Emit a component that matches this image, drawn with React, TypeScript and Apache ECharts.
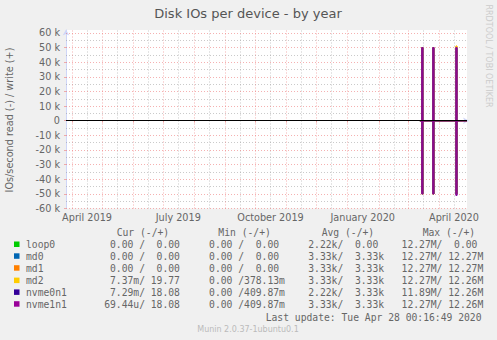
import React, { useEffect, useRef } from 'react';
import * as echarts from 'echarts';

// ---- axis range / ticks ----
const START_DATE = '2019-03-26';
const END_DATE = '2020-04-29';
const monthStarts = [
  '2019-04-01', '2019-05-01', '2019-06-01', '2019-07-01', '2019-08-01', '2019-09-01',
  '2019-10-01', '2019-11-01', '2019-12-01', '2020-01-01', '2020-02-01', '2020-03-01', '2020-04-01',
];
const midMonths = [
  '2019-04-16', '2019-05-16', '2019-06-16', '2019-07-16', '2019-08-16', '2019-09-16',
  '2019-10-16', '2019-11-16', '2019-12-16', '2020-01-16', '2020-02-16', '2020-03-16', '2020-04-16',
];
const labelDates = ['2019-04-16', '2019-07-16', '2019-10-16', '2020-01-16', '2020-04-16'];
const labelTexts = ['April 2019', 'July 2019', 'October 2019', 'January 2020', 'April 2020'];
const yMajor = [-60000, -50000, -40000, -30000, -20000, -10000, 10000, 20000, 30000, 40000, 50000, 60000];
const yMinor = [-55000, -45000, -35000, -25000, -15000, -5000, 5000, 15000, 25000, 35000, 45000, 55000];
const yTicks = [-60000, -50000, -40000, -30000, -20000, -10000, 0, 10000, 20000, 30000, 40000, 50000, 60000];

// ---- data (IOs/s, read negative, write positive) ----
const dataDates = ['2020-03-13', '2020-03-15', '2020-03-16', '2020-03-26', '2020-03-27', '2020-04-18', '2020-04-19', '2020-04-29'];
const devices = ['loop0', 'md0', 'md1', 'md2', 'nvme0n1', 'nvme1n1'];
const deviceColors = ['#00cc00', '#0066b3', '#ff8000', '#ffcc00', '#330099', '#990099'];
const loop0Read = [0, -50000, 0, -50000, 0, -50000, 0, 0];
const loop0Write = [0, 0, 0, 0, 0, 0, 0, 0];
const md0Read = [0, -50000, 0, -50000, 0, -50000, 0, 0];
const md0Write = [0, 50000, 0, 50000, 0, 50000, 0, 0];
const md1Read = [0, -50000, 0, -50000, 0, -50000, 0, 0];
const md1Write = [0, 50000, 0, 50000, 0, 51000, 0, 0];
const md2Read = [0, -50000, 0, -50000, 0, -50000, 0, 0];
const md2Write = [0, 50000, 0, 50000, 0, 51000, 0, 0];
const nvme0n1Read = [0, -50000, 0, -50000, 0, -51000, 0, 0];
const nvme0n1Write = [0, 50000, 0, 50000, 0, 50000, 0, 0];
const nvme1n1Read = [0, -50000, 0, -50000, 0, -51000, 0, 0];
const nvme1n1Write = [0, 50000, 0, 50000, 0, 50000, 0, 0];
const readSeries = [loop0Read, md0Read, md1Read, md2Read, nvme0n1Read, nvme1n1Read];
const writeSeries = [loop0Write, md0Write, md1Write, md2Write, nvme0n1Write, nvme1n1Write];

// ---- legend table ----
const legendCur = ['  0.00 /  0.00 ', '  0.00 /  0.00 ', '  0.00 /  0.00 ', '  7.37m/ 19.77 ', '  7.29m/ 18.08 ', ' 69.44u/ 18.08 '];
const legendMin = ['  0.00 /  0.00 ', '  0.00 /  0.00 ', '  0.00 /  0.00 ', '  0.00 /378.13m', '  0.00 /409.87m', '  0.00 /409.87m'];
const legendAvg = ['  2.22k/  0.00 ', '  3.33k/  3.33k', '  3.33k/  3.33k', '  3.33k/  3.33k', '  2.22k/  3.33k', '  3.33k/  3.33k'];
const legendMax = [' 12.27M/  0.00 ', ' 12.27M/ 12.27M', ' 12.27M/ 12.27M', ' 12.27M/ 12.26M', ' 11.89M/ 12.26M', ' 12.27M/ 12.26M'];
const headers = ['Cur (-/+)', 'Min (-/+)', 'Avg (-/+)', 'Max (-/+)'];
const lastUpdate = 'Last update: Tue Apr 28 00:16:49 2020';
const title = 'Disk IOs per device - by year';
const yTitle = 'IOs/second read (-) / write (+)';
const watermark = 'RRDTOOL / TOBI OETIKER';
const footer = 'Munin 2.0.37-1ubuntu0.1';

const nb = (s: string) => s.replace(/ /g, '\u00a0');
const ts = (d: string) => Date.parse(d);

export default function App() {
  const ref = useRef<HTMLDivElement>(null);
  useEffect(() => {
    if (!ref.current) return;
    const chart = echarts.init(ref.current, undefined, { renderer: 'svg' });
    const labelTs = labelDates.map(ts);
    const sans = 'DejaVu Sans';
    const mono = 'DejaVu Sans Mono';
    const textColor = '#666666';
    const majorStyle = { color: 'rgba(235,100,100,0.5)', width: 1, type: [1, 2] };
    const minorStyle = { color: 'rgba(150,150,150,0.5)', width: 1, type: [1, 2] };

    const gridLines: any[] = [
      ...midMonths.map((d) => ({ xAxis: ts(d), lineStyle: minorStyle })),
      ...yMinor.map((v) => ({ yAxis: v, lineStyle: minorStyle })),
      ...monthStarts.map((d) => ({ xAxis: ts(d), lineStyle: majorStyle })),
      ...yMajor.map((v) => ({ yAxis: v, lineStyle: majorStyle })),
    ];

    const series: any[] = [];
    devices.forEach((dev, i) => {
      [readSeries[i], writeSeries[i]].forEach((vals, k) => {
        series.push({
          name: dev + (k === 0 ? ' read' : ' write'),
          type: 'line',
          step: 'end',
          showSymbol: false,
          symbol: 'none',
          silent: true,
          z: 3,
          lineStyle: { color: deviceColors[i], width: 1 },
          data: dataDates.map((d, j) => [ts(d), vals[j]]),
        });
      });
    });
    series[0].markLine = {
      silent: true, symbol: 'none', z: 1, animation: false,
      label: { show: false }, data: gridLines,
    };
    series[1].markLine = {
      silent: true, symbol: 'none', z: 4, animation: false,
      label: { show: false },
      data: [{ yAxis: 0, lineStyle: { color: '#000000', width: 1, type: 'solid' } }],
    };

    const rowY = [244.3, 256.1, 268, 280.4, 292.2, 304];
    const graphics: any[] = [];
    graphics.push({ type: 'text', x: 248, y: 13.5, style: { text: title, fill: '#555555', fontSize: 13, fontFamily: sans, align: 'center', verticalAlign: 'middle' } });
    graphics.push({ type: 'text', x: 9.5, y: 120, rotation: Math.PI / 2, style: { text: yTitle, fill: textColor, fontSize: 9.7, fontFamily: sans, align: 'center', verticalAlign: 'middle' } });
    graphics.push({ type: 'text', x: 488, y: 56, rotation: -Math.PI / 2, style: { text: watermark, fill: '#cccccc', fontSize: 8, fontFamily: sans, align: 'center', verticalAlign: 'middle' } });
    const headerX = [116.7, 218.3, 321.7, 422.7];
    headers.forEach((h, i) => {
      graphics.push({ type: 'text', x: headerX[i], y: 232.7, style: { text: nb(h), fill: textColor, fontSize: 9.7, fontFamily: mono, verticalAlign: 'middle' } });
    });
    devices.forEach((dev, i) => {
      const y = rowY[i];
      graphics.push({ type: 'rect', shape: { x: 14, y: y - 2.8, width: 5.5, height: 5.5 }, style: { fill: deviceColors[i] } });
      graphics.push({ type: 'text', x: 26, y, style: { text: dev, fill: textColor, fontSize: 9.7, fontFamily: mono, verticalAlign: 'middle' } });
      const row = [legendCur[i], legendMin[i], legendAvg[i], legendMax[i]].join('  ');
      graphics.push({ type: 'text', x: 98.3, y, style: { text: nb(row), fill: textColor, fontSize: 9.7, fontFamily: mono, verticalAlign: 'middle' } });
    });
    graphics.push({ type: 'text', x: 481.5, y: 317, style: { text: nb(lastUpdate), fill: textColor, fontSize: 9.7, fontFamily: mono, align: 'right', verticalAlign: 'middle' } });
    graphics.push({ type: 'text', x: 248, y: 329, style: { text: footer, fill: '#bbbbbb', fontSize: 8, fontFamily: sans, align: 'center', verticalAlign: 'middle' } });

    chart.setOption({
      animation: false,
      backgroundColor: '#f0f0f0',
      grid: { left: 66, top: 30, width: 401, height: 178.5, show: true, backgroundColor: '#ffffff', borderWidth: 0, containLabel: false },
      xAxis: {
        type: 'value',
        min: ts(START_DATE),
        max: ts(END_DATE),
        axisLine: { show: true, lineStyle: { color: '#CFD6F8', width: 1 }, symbol: ['none', 'arrow'], symbolSize: [5, 6], symbolOffset: [0, 2] },
        axisTick: { show: true, customValues: monthStarts.map(ts), length: 2, lineStyle: { color: 'rgba(235,100,100,0.5)' } },
        axisLabel: {
          customValues: labelTs,
          formatter: (v: number) => { const k = labelTs.indexOf(v); return k >= 0 ? labelTexts[k] : ''; },
          color: textColor, fontSize: 9.7, fontFamily: sans, margin: 4, hideOverlap: false,
        },
        splitLine: { show: false },
      },
      yAxis: {
        type: 'value',
        min: -60000,
        max: 62000,
        interval: 10000,
        axisLine: { show: true, lineStyle: { color: '#CFD6F8', width: 1 }, symbol: ['none', 'arrow'], symbolSize: [5, 6], symbolOffset: [0, 0.5] },
        axisTick: { show: true, customValues: yTicks, length: 2, lineStyle: { color: 'rgba(235,100,100,0.5)' } },
        axisLabel: {
          formatter: (v: number) => (v > 60000 ? '' : v === 0 ? '0' : `${v / 1000} k`),
          color: textColor, fontSize: 9.7, fontFamily: sans, margin: 6,
        },
        splitLine: { show: false },
      },
      series,
      graphic: graphics,
    });
    return () => chart.dispose();
  }, []);
  return <div ref={ref} style={{ position: 'fixed', left: 0, top: 0, width: 497, height: 340 }} />;
}
